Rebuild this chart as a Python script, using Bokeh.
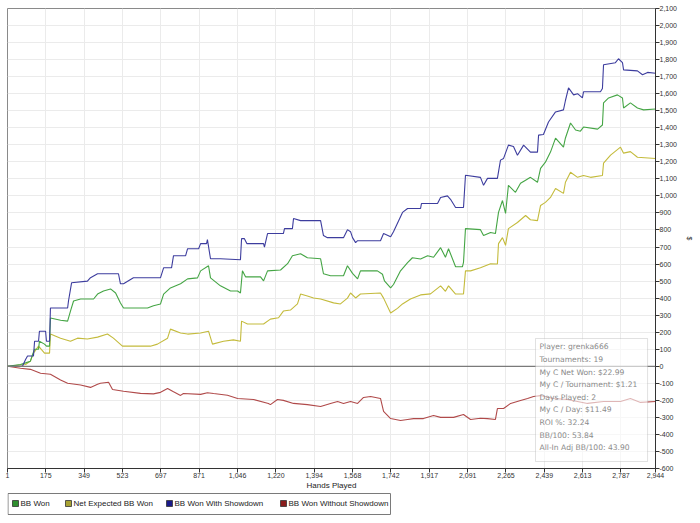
from bokeh.plotting import figure
from bokeh.layouts import column
from bokeh.core.properties import value
from bokeh.models import (Range1d, FixedTicker, NumeralTickFormatter, Span,
                          BoxAnnotation, Label)
from bokeh.embed import file_html
from bokeh.resources import INLINE

# ---- data: cumulative winnings (big blinds) by hand number ----
hand_ticks = [1, 175, 349, 523, 697, 871, 1046, 1220, 1394, 1568, 1742,
              1917, 2091, 2265, 2439, 2613, 2787, 2944]
value_ticks = list(range(-600, 2101, 100))

showdown_hands = [1, 69, 83, 92, 119, 124, 142, 146, 174, 178, 192, 196, 274, 278, 292,
                  364, 378, 410, 505, 514, 528, 573, 696, 710, 746, 755, 810, 819, 869,
                  878, 905, 909, 923, 968, 1059, 1064, 1077, 1088, 1164, 1168, 1182,
                  1254, 1259, 1295, 1300, 1332, 1423, 1436, 1454, 1527, 1545, 1559, 1568,
                  1582, 1591, 1695, 1709, 1741, 1754, 1795, 1818, 1877, 1881, 1954, 1968,
                  1999, 2013, 2036, 2072, 2081, 2149, 2163, 2181, 2226, 2240, 2254, 2276,
                  2299, 2317, 2345, 2376, 2408, 2413, 2435, 2458, 2490, 2526, 2535, 2549,
                  2572, 2590, 2612, 2617, 2694, 2703, 2708, 2762, 2776, 2794, 2799, 2862,
                  2885, 2908, 2944]
showdown_bb = [0, 0, 40, 60, 60, 147, 147, 206, 206, 147, 147, 342, 342, 383, 490,
               500, 520, 543, 543, 484, 484, 520, 520, 578, 578, 649, 649, 690, 690,
               720, 720, 743, 631, 631, 625, 749, 749, 720, 720, 700, 779,
               779, 808, 808, 867, 855, 855, 767, 755, 755, 802, 790, 755,
               726, 737, 737, 779, 760, 790, 903, 926, 926, 955, 955, 991,
               1000, 980, 932, 932, 1121, 1109, 1062, 1103, 1103, 1210, 1220, 1298,
               1290, 1239, 1298, 1257, 1257, 1357, 1360, 1434, 1493, 1505, 1560, 1634,
               1593, 1600, 1575, 1611, 1611, 1630, 1770, 1782, 1805, 1782, 1740, 1734,
               1711, 1725, 1720]

won_hands = [1, 60, 83, 105, 115, 124, 142, 146, 169, 178, 192, 196, 242, 274, 287, 301,
             333, 392, 410, 437, 469, 492, 514, 528, 637, 664, 696, 710, 741, 787, 819,
             864, 878, 914, 923, 968, 1014, 1046, 1059, 1068, 1082, 1150, 1164, 1182,
             1241, 1273, 1295, 1332, 1363, 1423, 1436, 1468, 1527, 1545, 1568, 1591,
             1604, 1681, 1704, 1713, 1741, 1754, 1786, 1818, 1840, 1877, 1909, 1936,
             1968, 1990, 2004, 2036, 2067, 2072, 2081, 2149, 2163, 2195, 2217, 2231,
             2249, 2263, 2276, 2308, 2331, 2354, 2376, 2408, 2422, 2444, 2467, 2490,
             2526, 2535, 2558, 2581, 2603, 2617, 2681, 2703, 2708, 2731, 2771, 2794,
             2799, 2830, 2862, 2890, 2944]
won_bb = [0, 10, 20, 30, 70, 100, 100, 147, 130, 118, 118, 283, 270, 265, 324, 383,
          395, 395, 424, 442, 454, 430, 371, 342, 342, 355, 366, 424, 460, 484, 513,
          519, 560, 590, 519, 472, 442, 442, 430, 560, 525, 525, 501, 560,
          565, 602, 649, 661, 637, 631, 543, 531, 531, 590, 545, 513,
          560, 560, 540, 501, 460, 480, 560, 608, 637, 630, 649, 640,
          696, 640, 690, 584, 584, 610, 808, 802, 767, 785, 779, 903,
          973, 897, 1062, 1021, 1074, 1092, 1109, 1080, 1162, 1198, 1257, 1339,
          1286, 1340, 1428, 1387, 1380, 1404, 1392, 1416, 1546, 1575, 1593, 1575,
          1516, 1546, 1516, 1505, 1510]

expected_hands = [1, 83, 105, 119, 142, 169, 192, 196, 242, 287, 319, 364, 410, 455, 482,
                  523, 650, 682, 728, 741, 787, 819, 878, 914, 932, 982, 1027, 1059, 1064,
                  1091, 1164, 1195, 1232, 1254, 1286, 1318, 1332, 1363, 1391, 1423, 1482,
                  1513, 1545, 1559, 1582, 1604, 1695, 1709, 1741, 1772, 1795, 1831, 1877,
                  1922, 1968, 1990, 2004, 2036, 2072, 2081, 2104, 2149, 2195, 2226, 2231,
                  2249, 2263, 2276, 2317, 2354, 2376, 2408, 2422, 2444, 2467, 2490, 2526,
                  2535, 2558, 2590, 2617, 2649, 2703, 2708, 2740, 2785, 2799, 2830, 2862,
                  2944]
expected_bb = [0, 10, 30, 77, 118, 77, 77, 189, 165, 147, 165, 160, 171, 189, 165,
               118, 118, 130, 165, 218, 195, 189, 195, 206, 130, 147, 155, 147, 265,
               248, 248, 277, 285, 324, 330, 366, 424, 413, 401, 395, 372,
               366, 400, 430, 401, 424, 430, 400, 313, 340, 366, 395, 419,
               425, 472, 440, 472, 424, 425, 560, 560, 578, 602, 600, 720,
               755, 710, 808, 844, 885, 860, 855, 944, 962, 991, 1044, 1015,
               1080, 1139, 1109, 1120, 1109, 1120, 1192, 1239, 1286, 1251, 1260, 1227,
               1220]

noshow_hands = [1, 60, 105, 151, 196, 242, 274, 333, 378, 410, 423, 460, 478, 528, 605,
                664, 696, 728, 755, 787, 800, 878, 909, 937, 1000, 1046, 1118, 1186, 1195,
                1227, 1254, 1300, 1363, 1423, 1468, 1500, 1527, 1559, 1591, 1618, 1650,
                1695, 1709, 1741, 1786, 1818, 1845, 1890, 1936, 1968, 2027, 2072, 2104,
                2149, 2181, 2217, 2226, 2254, 2286, 2331, 2363, 2390, 2422, 2481, 2544,
                2635, 2708, 2785, 2830, 2876, 2944]
noshow_bb = [0, -12, -18, -41, -47, -80, -100, -110, -124, -106, -100, -94, -136, -147, -159,
             -162, -153, -130, -150, -171, -160, -165, -155, -160, -170, -189, -195, -218, -225,
             -195, -200, -218, -225, -236, -218, -207, -218, -207, -218, -183, -177,
             -189, -265, -307, -318, -312, -307, -307, -289, -300, -300, -283, -312,
             -305, -307, -312, -248, -248, -218, -201, -189, -177, -172, -189, -195,
             -218, -207, -207, -189, -212, -207]

series_names = ["BB Won", "Net Expected BB Won", "BB Won With Showdown", "BB Won Without Showdown"]
line_colors = ["#45a545", "#c4bb3c", "#3d3d9e", "#b04a4a"]
legend_colors = ["#2f8f2f", "#a8a232", "#1a1a8a", "#8a1c1c"]

info_lines = ["Player: grenka666", "Tournaments: 19", "My C Net Won: $22.99",
              "My C / Tournament: $1.21", "Days Played: 2", "My C / Day: $11.49",
              "ROI %: 32.24", "BB/100: 53.84", "All-In Adj BB/100: 43.90"]

tick_font = "Liberation Sans"

# ---- main chart ----
p = figure(width=700, height=492, output_backend="svg", toolbar_location=None,
           x_range=Range1d(1, 2944), y_range=Range1d(-600, 2100),
           y_axis_location="right",
           min_border_left=7, min_border_right=45, min_border_top=8, min_border_bottom=24)
p.background_fill_color = "white"
p.border_fill_color = "white"
p.outline_line_color = "#8a8a8a"

xa = p.xaxis[0]
xa.ticker = FixedTicker(ticks=hand_ticks)
xa.formatter = NumeralTickFormatter(format="0,0")
xa.axis_label = "Hands Played"
xa.axis_label_text_font = tick_font
xa.axis_label_text_font_size = "8px"
xa.axis_label_text_font_style = "normal"
xa.axis_label_text_color = "#222222"
xa.axis_label_standoff = 0

ya = p.yaxis[0]
ya.ticker = FixedTicker(ticks=value_ticks)
ya.formatter = NumeralTickFormatter(format="0,0")
ya.axis_label = "$"
ya.axis_label_text_font = tick_font
ya.axis_label_text_font_size = "7px"
ya.axis_label_text_font_style = "normal"
ya.axis_label_text_color = "#333333"
ya.axis_label_standoff = 6

for ax in (xa, ya):
    ax.axis_line_color = "#333333"
    ax.major_tick_line_color = "#333333"
    ax.major_tick_out = 4
    ax.major_tick_in = 0
    ax.minor_tick_line_color = None
    ax.major_label_text_font = tick_font
    ax.major_label_text_font_size = "7px"
    ax.major_label_text_color = "#333333"
    ax.major_label_standoff = 0

p.xgrid[0].ticker = FixedTicker(ticks=hand_ticks)
p.ygrid[0].ticker = FixedTicker(ticks=value_ticks)
for g in (p.xgrid[0], p.ygrid[0]):
    g.grid_line_color = "#ebebeb"
    g.grid_line_width = 1

p.add_layout(Span(location=0, dimension="width", line_color="#7a7a7a", line_width=1.2))

# series lines, drawn back to front
for xs, ys, col in [(noshow_hands, noshow_bb, line_colors[3]),
                    (expected_hands, expected_bb, line_colors[1]),
                    (won_hands, won_bb, line_colors[0]),
                    (showdown_hands, showdown_bb, line_colors[2])]:
    p.line(xs, ys, line_color=col, line_width=1.1)

# stats box
p.add_layout(BoxAnnotation(left=2399, right=2908, top=163, bottom=-559,
                           fill_color="white", fill_alpha=0.6,
                           line_color="#9a9a9a", line_width=1))
for i, txt in enumerate(info_lines):
    p.add_layout(Label(x=2417, y=114 - 74 * i, text=txt,
                       text_font="DejaVu Sans", text_font_size="7.6px",
                       text_color="#8a8a8a", text_baseline="middle"))

# ---- legend strip ----
# its frame lines up with the chart frame above (pixels 7..655), so x is in page pixels
lg = figure(width=700, height=31, output_backend="svg", toolbar_location=None,
            x_range=Range1d(7, 655), y_range=Range1d(31, 0),
            x_axis_location=None, y_axis_location=None,
            min_border_left=7, min_border_right=45, min_border_top=0, min_border_bottom=0)
lg.grid.visible = False
lg.outline_line_color = None
lg.background_fill_color = "white"
lg.border_fill_color = "white"

item_left = [12, 65, 166, 280]
lg.quad(left=[7.5], right=[390], top=[1], bottom=[22], fill_color="white",
        line_color="#7a7a7a", line_width=1)
lg.quad(left=item_left, right=[x + 6 for x in item_left], top=[8] * 4, bottom=[14] * 4,
        fill_color=legend_colors, line_color="#333333", line_width=0.8)
lg.text(x=[x + 8 for x in item_left], y=[11] * 4, text=series_names,
        text_font=value(tick_font), text_font_size="8px", text_color="#222222",
        text_baseline="middle", text_align="left")

layout = column(p, lg, spacing=0)
open("out.html", "w").write(file_html(layout, INLINE))
